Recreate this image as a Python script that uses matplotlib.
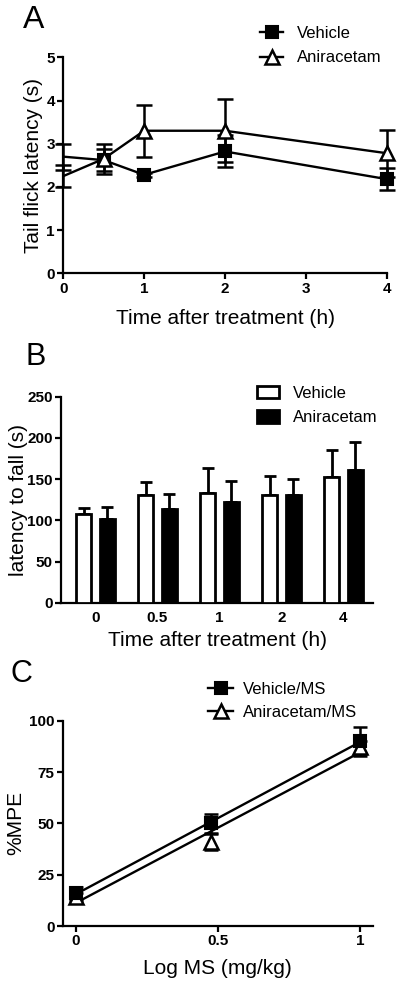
import numpy as np
import matplotlib.pyplot as plt
from matplotlib.lines import Line2D
from matplotlib.patches import Patch

plt.rcParams['font.family'] = ['Liberation Sans', 'DejaVu Sans']

# A - tail flick latency
time_a = [0, 0.5, 1, 2, 4]
veh_a = [2.70, 2.62, 2.28, 2.82, 2.18]
veh_a_err = [0.30, 0.25, 0.05, 0.37, 0.26]
ani_a = [2.25, 2.65, 3.30, 3.30, 2.78]
ani_a_err = [0.25, 0.35, 0.60, 0.73, 0.54]

# B - latency to fall
time_b = ['0', '0.5', '1', '2', '4']
veh_b = [108, 131, 133, 131, 152]
veh_b_err = [7, 15, 31, 23, 33]
ani_b = [101, 114, 122, 131, 161]
ani_b_err = [15, 18, 26, 19, 34]

# C - %MPE vs log dose
log_ms = [0, 0.477, 1]
veh_c = [16, 50, 90]
veh_c_err = [3, 4.5, 7]
ani_c = [14, 41, 87]
ani_c_err = [2, 4, 3]

W, H = 400, 982
fig = plt.figure(figsize=(W / 100, H / 100), dpi=100)


def px_axes(l, t, r, b):
    return fig.add_axes([l / W, 1 - b / H, (r - l) / W, (b - t) / H])


def style(ax):
    for s in ['top', 'right']:
        ax.spines[s].set_visible(False)
    for s in ['left', 'bottom']:
        ax.spines[s].set_linewidth(1.6)
    ax.tick_params(width=1.6, length=4, labelsize=11, pad=2)
    for lab in ax.get_xticklabels() + ax.get_yticklabels():
        lab.set_fontweight('bold')


def labels(ax, xl, yl, xpos, ypos):
    ax.set_xlabel(xl, fontsize=15)
    ax.set_ylabel(yl, fontsize=15)
    ax.xaxis.set_label_coords(0.5, xpos)
    ax.yaxis.set_label_coords(ypos, 0.5)
    ax.xaxis.label.set_va('center')
    ax.yaxis.label.set_va('center')


# ---- panel A
ax = px_axes(63.3, 57.3, 386.7, 273.3)
for y, err in [(veh_a, veh_a_err), (ani_a, ani_a_err)]:
    ax.errorbar(time_a, y, yerr=err, fmt='none', ecolor='k', elinewidth=1.8,
                capsize=6, capthick=1.8, clip_on=False, zorder=2)
    ax.plot(time_a, y, '-', color='k', lw=1.7, zorder=3)
ax.plot(time_a[1:], veh_a[1:], 's', ms=8.5, mfc='k', mec='k', mew=1.5,
        clip_on=False, zorder=4)
ax.plot(time_a[1:], ani_a[1:], '^', ms=9.5, mfc='white', mec='k', mew=1.8,
        clip_on=False, zorder=4)
ax.set_xlim(0, 4)
ax.set_ylim(0, 5)
ax.set_xticks([0, 1, 2, 3, 4])
ax.set_yticks([0, 1, 2, 3, 4, 5])
style(ax)
labels(ax, 'Time after treatment (h)', 'Tail flick latency (s)',
       -(318 - 273.3) / 216, (34 - 63.3) / 323.4)
h_a = [Line2D([], [], color='k', lw=1.7, marker='s', ms=8.5, mfc='k', mew=1.5),
       Line2D([], [], color='k', lw=1.7, marker='^', ms=9.5, mfc='white', mew=1.8)]
ax.legend(h_a, ['Vehicle', 'Aniracetam'], loc='center left',
          bbox_to_anchor=(260 / W, 1 - 45.8 / H), bbox_transform=fig.transFigure,
          frameon=False, fontsize=12, borderpad=0, borderaxespad=0,
          handlelength=1.4, handletextpad=0.8, labelspacing=0.55)
fig.text(23 / W, 1 - 28 / H, 'A', fontsize=23, va='baseline', ha='left')

# ---- panel B
ax = px_axes(61, 396.7, 373, 602.7)
pos = np.arange(len(time_b))
bw = 0.24
ax.bar(pos - 0.19, veh_b, bw, color='white', edgecolor='k', linewidth=2, zorder=3)
ax.bar(pos + 0.19, ani_b, bw, color='k', edgecolor='k', linewidth=2, zorder=3)
ax.errorbar(pos - 0.19, veh_b, yerr=[np.zeros(len(veh_b)), veh_b_err], fmt='none',
            ecolor='k', elinewidth=2, capsize=4.3, capthick=2, zorder=2)
ax.errorbar(pos + 0.19, ani_b, yerr=[np.zeros(len(ani_b)), ani_b_err], fmt='none',
            ecolor='k', elinewidth=2, capsize=4.3, capthick=2, zorder=2)
ax.set_xlim(-0.556, 4.476)
ax.set_ylim(0, 250)
ax.set_xticks(pos, time_b)
ax.set_yticks([0, 50, 100, 150, 200, 250])
style(ax)
ax.tick_params(axis='x', length=0, pad=6)
labels(ax, 'Time after treatment (h)', 'latency to fall (s)',
       -(640 - 602.7) / 206, (19 - 61) / 312)
h_b = [Patch(facecolor='white', edgecolor='k', linewidth=2),
       Patch(facecolor='k', edgecolor='k', linewidth=2)]
ax.legend(h_b, ['Vehicle', 'Aniracetam'], loc='center left',
          bbox_to_anchor=(257 / W, 1 - 405.5 / H), bbox_transform=fig.transFigure,
          frameon=False, fontsize=12, borderpad=0, borderaxespad=0,
          handlelength=1.3, handleheight=0.8, handletextpad=0.85, labelspacing=0.55)
fig.text(25 / W, 1 - 365 / H, 'B', fontsize=22, va='baseline', ha='left')

# ---- panel C
ax = px_axes(63, 720.7, 372.7, 926)
xs = np.array(log_ms)
for y, err in [(veh_c, veh_c_err), (ani_c, ani_c_err)]:
    ax.errorbar(log_ms, y, yerr=err, fmt='none', ecolor='k', elinewidth=1.8,
                capsize=5, capthick=1.8, clip_on=False, zorder=2)
    slope, icpt = np.polyfit(xs, y, 1)
    ax.plot([xs.min(), xs.max()], [icpt + slope * xs.min(), icpt + slope * xs.max()],
            '-', color='k', lw=1.7, zorder=3)
ax.plot(log_ms, ani_c, '^', ms=9.5, mfc='white', mec='k', mew=1.8, clip_on=False, zorder=4)
ax.plot(log_ms, veh_c, 's', ms=8.5, mfc='k', mec='k', mew=1.5, clip_on=False, zorder=5)
ax.set_xlim(-0.0458, 1.045)
ax.set_ylim(0, 100)
ax.set_xticks([0, 0.5, 1], ['0', '0.5', '1'])
ax.set_yticks([0, 25, 50, 75, 100])
style(ax)
labels(ax, 'Log MS (mg/kg)', '%MPE', -(968 - 926) / 205.3, (15.7 - 63) / 309.7)
h_c = [Line2D([], [], color='k', lw=1.7, marker='s', ms=8.5, mfc='k', mew=1.5),
       Line2D([], [], color='k', lw=1.7, marker='^', ms=9.5, mfc='white', mew=1.8)]
ax.legend(h_c, ['Vehicle/MS', 'Aniracetam/MS'], loc='center left',
          bbox_to_anchor=(208 / W, 1 - 700.8 / H), bbox_transform=fig.transFigure,
          frameon=False, fontsize=12, borderpad=0, borderaxespad=0,
          handlelength=1.5, handletextpad=0.6, labelspacing=0.45)
fig.text(10 / W, 1 - 681.7 / H, 'C', fontsize=22, va='baseline', ha='left')

fig.savefig('out.png', dpi=100, facecolor='white')
